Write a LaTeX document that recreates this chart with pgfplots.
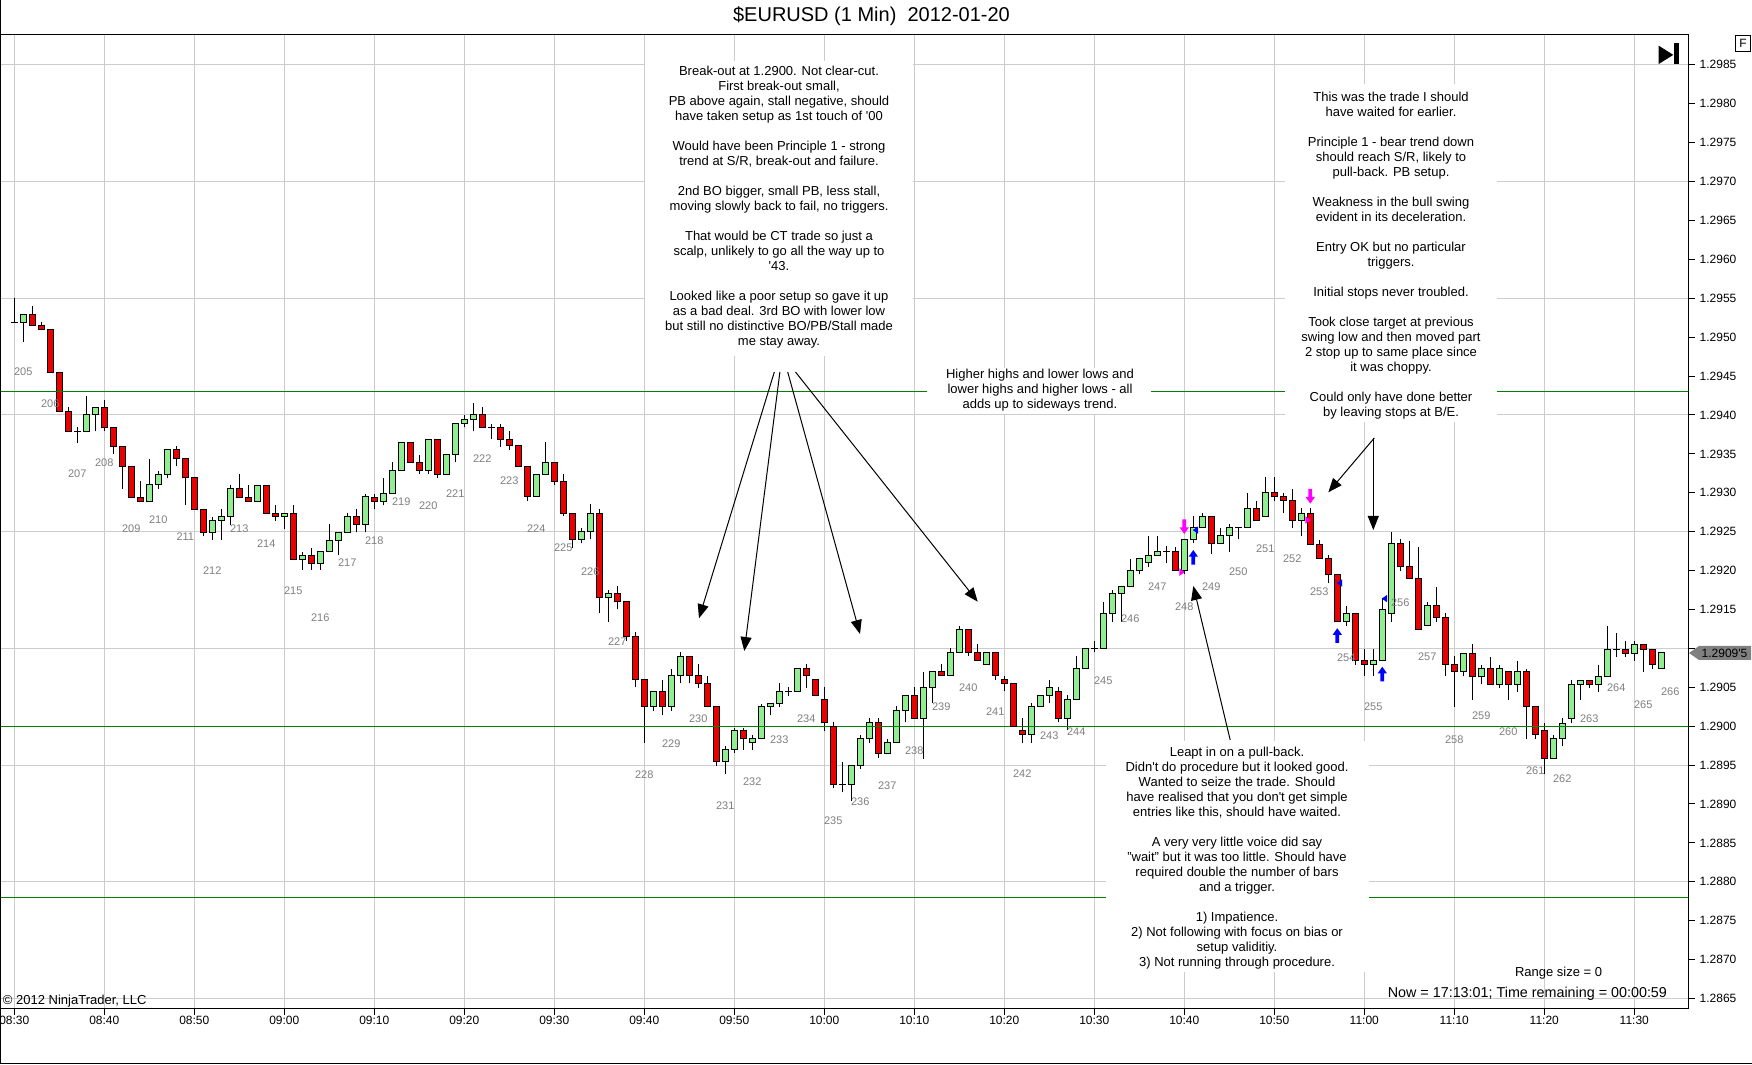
\documentclass[border=0pt]{standalone}
\usepackage{pgfplots}
\pgfplotsset{compat=1.18}
\usepackage{pgfplotstable}
\usepackage{fontspec}
\setmainfont{Liberation Sans}
\usetikzlibrary{arrows.meta}
\definecolor{cgreen}{RGB}{144,238,144}
\definecolor{cred}{RGB}{235,0,0}
\definecolor{srgreen}{RGB}{0,128,0}
\definecolor{gridgray}{RGB}{204,204,204}
\definecolor{lblgray}{RGB}{128,128,128}
\definecolor{tagfill}{RGB}{128,128,128}
\definecolor{tmag}{RGB}{255,0,255}
\definecolor{tblue}{RGB}{0,0,255}
\newcommand\fa{\fontsize{9.75}{11.25}\selectfont}
\newcommand\fb{\fontsize{9}{10.5}\selectfont}
\newcommand\fc{\fontsize{8.25}{9.5}\selectfont}
\newcommand\ft{\fontsize{15}{18}\selectfont}
\pgfdeclareplotmark{uparr}{%
 \pgfpathmoveto{\pgfqpoint{-1.4pt}{-5.5pt}}%
 \pgfpathlineto{\pgfqpoint{1.4pt}{-5.5pt}}%
 \pgfpathlineto{\pgfqpoint{1.4pt}{0.5pt}}%
 \pgfpathlineto{\pgfqpoint{3.5pt}{0.5pt}}%
 \pgfpathlineto{\pgfqpoint{0pt}{5.5pt}}%
 \pgfpathlineto{\pgfqpoint{-3.5pt}{0.5pt}}%
 \pgfpathlineto{\pgfqpoint{-1.4pt}{0.5pt}}%
 \pgfpathclose\pgfusepathqfill}
\pgfdeclareplotmark{dnarr}{%
 \pgfpathmoveto{\pgfqpoint{-1.4pt}{5.5pt}}%
 \pgfpathlineto{\pgfqpoint{1.4pt}{5.5pt}}%
 \pgfpathlineto{\pgfqpoint{1.4pt}{-0.5pt}}%
 \pgfpathlineto{\pgfqpoint{3.5pt}{-0.5pt}}%
 \pgfpathlineto{\pgfqpoint{0pt}{-5.5pt}}%
 \pgfpathlineto{\pgfqpoint{-3.5pt}{-0.5pt}}%
 \pgfpathlineto{\pgfqpoint{-1.4pt}{-0.5pt}}%
 \pgfpathclose\pgfusepathqfill}
\pgfdeclareplotmark{ltri}{%
 \pgfpathmoveto{\pgfqpoint{-2.4pt}{0pt}}%
 \pgfpathlineto{\pgfqpoint{1.6pt}{2.8pt}}%
 \pgfpathlineto{\pgfqpoint{1.6pt}{-2.8pt}}%
 \pgfpathclose\pgfusepathqfill}
\pgfdeclareplotmark{rtri}{%
 \pgfpathmoveto{\pgfqpoint{2.4pt}{0pt}}%
 \pgfpathlineto{\pgfqpoint{-1.6pt}{2.8pt}}%
 \pgfpathlineto{\pgfqpoint{-1.6pt}{-2.8pt}}%
 \pgfpathclose\pgfusepathqfill}
\pgfplotsset{
 nomk/.style={only marks, mark=*, mark size=0pt, mark options={draw=none, fill=none}, forget plot},
}

\pgfplotstableread{
i O H L C
0 1.29519 1.29550 1.29519 1.29519
1 1.29519 1.29529 1.29494 1.29529
2 1.29529 1.29540 1.29515 1.29515
3 1.29515 1.29519 1.29510 1.29510
4 1.29510 1.29510 1.29455 1.29455
5 1.29455 1.29455 1.29404 1.29404
6 1.29404 1.29410 1.29379 1.29379
7 1.29379 1.29384 1.29364 1.29379
8 1.29379 1.29424 1.29379 1.29400
9 1.29400 1.29410 1.29379 1.29410
10 1.29410 1.29419 1.29379 1.29384
11 1.29384 1.29384 1.29350 1.29360
12 1.29360 1.29360 1.29305 1.29334
13 1.29334 1.29334 1.29294 1.29294
14 1.29294 1.29315 1.29289 1.29289
15 1.29289 1.29344 1.29289 1.29310
16 1.29310 1.29328 1.29305 1.29324
17 1.29324 1.29355 1.29319 1.29355
18 1.29355 1.29360 1.29334 1.29344
19 1.29344 1.29344 1.29284 1.29319
20 1.29319 1.29319 1.29279 1.29279
21 1.29279 1.29279 1.29244 1.29249
22 1.29249 1.29269 1.29239 1.29265
23 1.29265 1.29279 1.29239 1.29270
24 1.29270 1.29310 1.29259 1.29305
25 1.29305 1.29324 1.29294 1.29294
26 1.29294 1.29310 1.29289 1.29289
27 1.29289 1.29309 1.29289 1.29309
28 1.29309 1.29309 1.29274 1.29274
29 1.29274 1.29284 1.29264 1.29270
30 1.29270 1.29274 1.29254 1.29274
31 1.29274 1.29284 1.29214 1.29214
32 1.29214 1.29224 1.29201 1.29220
33 1.29220 1.29229 1.29201 1.29209
34 1.29209 1.29224 1.29201 1.29224
35 1.29224 1.29260 1.29224 1.29239
36 1.29239 1.29249 1.29220 1.29249
37 1.29249 1.29274 1.29249 1.29270
38 1.29270 1.29279 1.29249 1.29259
39 1.29259 1.29299 1.29249 1.29295
40 1.29294 1.29299 1.29279 1.29289
41 1.29289 1.29319 1.29284 1.29299
42 1.29299 1.29340 1.29299 1.29329
43 1.29329 1.29365 1.29329 1.29365
44 1.29365 1.29365 1.29339 1.29339
45 1.29339 1.29349 1.29324 1.29329
46 1.29329 1.29369 1.29324 1.29369
47 1.29369 1.29369 1.29319 1.29324
48 1.29324 1.29349 1.29324 1.29349
49 1.29349 1.29389 1.29339 1.29389
50 1.29389 1.29400 1.29384 1.29394
51 1.29394 1.29415 1.29379 1.29400
52 1.29400 1.29410 1.29384 1.29384
53 1.29384 1.29389 1.29369 1.29384
54 1.29384 1.29389 1.29359 1.29369
55 1.29369 1.29379 1.29355 1.29361
56 1.29361 1.29361 1.29334 1.29334
57 1.29334 1.29334 1.29290 1.29295
58 1.29295 1.29324 1.29295 1.29324
59 1.29324 1.29365 1.29324 1.29339
60 1.29339 1.29339 1.29310 1.29315
61 1.29315 1.29324 1.29270 1.29274
62 1.29274 1.29274 1.29229 1.29240
63 1.29240 1.29255 1.29235 1.29250
64 1.29250 1.29285 1.29240 1.29274
65 1.29274 1.29279 1.29145 1.29165
66 1.29165 1.29175 1.29134 1.29171
67 1.29171 1.29180 1.29150 1.29160
68 1.29160 1.29160 1.29110 1.29115
69 1.29115 1.29121 1.29050 1.29060
70 1.29060 1.29060 1.28979 1.29025
71 1.29025 1.29045 1.29020 1.29045
72 1.29045 1.29060 1.29015 1.29025
73 1.29025 1.29074 1.29020 1.29065
74 1.29065 1.29095 1.29055 1.29090
75 1.29090 1.29090 1.29055 1.29065
76 1.29065 1.29080 1.29049 1.29055
77 1.29055 1.29065 1.29025 1.29025
78 1.29025 1.29025 1.28949 1.28954
79 1.28954 1.28975 1.28939 1.28970
80 1.28970 1.28998 1.28965 1.28994
81 1.28994 1.28998 1.28970 1.28984
82 1.28979 1.28989 1.28970 1.28984
83 1.28984 1.29028 1.28984 1.29025
84 1.29025 1.29029 1.29014 1.29029
85 1.29029 1.29055 1.29025 1.29045
86 1.29045 1.29050 1.29039 1.29045
87 1.29045 1.29074 1.29045 1.29074
88 1.29074 1.29080 1.29049 1.29065
89 1.29060 1.29060 1.29040 1.29040
90 1.29034 1.29050 1.28994 1.29005
91 1.29000 1.29005 1.28920 1.28925
92 1.28925 1.28954 1.28915 1.28925
93 1.28925 1.28950 1.28904 1.28950
94 1.28950 1.28989 1.28945 1.28984
95 1.28984 1.29010 1.28979 1.29005
96 1.29005 1.29010 1.28959 1.28965
97 1.28965 1.28984 1.28965 1.28979
98 1.28979 1.29026 1.28979 1.29020
99 1.29020 1.29040 1.29005 1.29040
100 1.29040 1.29050 1.29010 1.29010
101 1.29010 1.29070 1.28958 1.29050
102 1.29050 1.29070 1.29030 1.29070
103 1.29070 1.29080 1.29065 1.29065
104 1.29065 1.29100 1.29065 1.29095
105 1.29095 1.29129 1.29095 1.29124
106 1.29124 1.29124 1.29090 1.29095
107 1.29095 1.29105 1.29085 1.29085
108 1.29079 1.29095 1.29079 1.29095
109 1.29095 1.29095 1.29060 1.29065
110 1.29060 1.29065 1.29045 1.29055
111 1.29055 1.29055 1.29000 1.29000
112 1.28995 1.29010 1.28979 1.28989
113 1.28989 1.29030 1.28979 1.29025
114 1.29025 1.29040 1.29025 1.29040
115 1.29040 1.29060 1.29030 1.29050
116 1.29045 1.29050 1.29005 1.29010
117 1.29010 1.29040 1.28995 1.29034
118 1.29034 1.29090 1.29034 1.29074
119 1.29074 1.29100 1.29074 1.29100
120 1.29100 1.29110 1.29095 1.29100
121 1.29100 1.29160 1.29100 1.29145
122 1.29145 1.29175 1.29134 1.29171
123 1.29171 1.29180 1.29134 1.29180
124 1.29180 1.29215 1.29179 1.29200
125 1.29200 1.29215 1.29195 1.29215
126 1.29210 1.29245 1.29205 1.29220
127 1.29220 1.29245 1.29220 1.29224
128 1.29224 1.29231 1.29210 1.29224
129 1.29224 1.29230 1.29200 1.29200
130 1.29200 1.29240 1.29195 1.29240
131 1.29240 1.29270 1.29235 1.29255
132 1.29255 1.29274 1.29255 1.29270
133 1.29270 1.29270 1.29221 1.29235
134 1.29235 1.29255 1.29235 1.29245
135 1.29245 1.29260 1.29224 1.29255
136 1.29255 1.29255 1.29240 1.29255
137 1.29255 1.29300 1.29255 1.29280
138 1.29280 1.29290 1.29265 1.29265
139 1.29270 1.29320 1.29270 1.29300
140 1.29300 1.29320 1.29290 1.29295
141 1.29295 1.29300 1.29274 1.29290
142 1.29290 1.29305 1.29255 1.29265
143 1.29265 1.29280 1.29244 1.29274
144 1.29274 1.29280 1.29234 1.29234
145 1.29234 1.29239 1.29215 1.29215
146 1.29215 1.29220 1.29184 1.29195
147 1.29195 1.29195 1.29134 1.29134
148 1.29134 1.29154 1.29129 1.29145
149 1.29145 1.29145 1.29079 1.29084
150 1.29084 1.29099 1.29064 1.29079
151 1.29079 1.29099 1.29064 1.29084
152 1.29084 1.29165 1.29084 1.29150
153 1.29145 1.29250 1.29134 1.29235
154 1.29235 1.29240 1.29199 1.29205
155 1.29205 1.29238 1.29190 1.29190
156 1.29190 1.29230 1.29124 1.29124
157 1.29129 1.29160 1.29129 1.29155
158 1.29155 1.29179 1.29134 1.29140
159 1.29140 1.29145 1.29064 1.29079
160 1.29079 1.29090 1.29025 1.29070
161 1.29070 1.29094 1.29064 1.29094
162 1.29094 1.29105 1.29034 1.29064
163 1.29064 1.29079 1.29054 1.29074
164 1.29074 1.29089 1.29054 1.29054
165 1.29054 1.29079 1.29049 1.29074
166 1.29070 1.29070 1.29034 1.29054
167 1.29054 1.29084 1.29044 1.29070
168 1.29070 1.29074 1.28984 1.29025
169 1.29025 1.29025 1.28984 1.28989
170 1.28994 1.29004 1.28939 1.28959
171 1.28959 1.28989 1.28959 1.28984
172 1.28984 1.29010 1.28974 1.29004
173 1.29010 1.29059 1.29004 1.29054
174 1.29054 1.29059 1.29034 1.29059
175 1.29059 1.29059 1.29049 1.29054
176 1.29054 1.29079 1.29044 1.29064
177 1.29064 1.29129 1.29064 1.29099
178 1.29099 1.29120 1.29089 1.29099
179 1.29099 1.29109 1.29089 1.29094
180 1.29094 1.29109 1.29084 1.29105
181 1.29105 1.29105 1.29070 1.29099
182 1.29099 1.29099 1.29074 1.29079
183 1.29074 1.29095 1.29074 1.29095
}\candles

\pgfplotstableread{
x y lab
1 1.29455 205
4 1.29415 206
7 1.29324 207
10 1.29339 208
13 1.29254 209
16 1.29265 210
19 1.29244 211
22 1.29200 212
25 1.29254 213
28 1.29234 214
31 1.29174 215
34 1.29140 216
37 1.29210 217
40 1.29239 218
43 1.29289 219
46 1.29284 220
49 1.29299 221
52 1.29344 222
55 1.29315 223
58 1.29254 224
61 1.29229 225
64 1.29199 226
67 1.29109 227
70 1.28938 228
73 1.28977 229
76 1.29009 230
79 1.28898 231
82 1.28928 232
85 1.28983 233
88 1.29009 234
91 1.28878 235
94 1.28903 236
97 1.28924 237
100 1.28969 238
103 1.29025 239
106 1.29049 240
109 1.29019 241
112 1.28939 242
115 1.28988 243
118 1.28993 244
121 1.29059 245
124 1.29138 246
127 1.29179 247
130 1.29154 248
133 1.29179 249
136 1.29199 250
139 1.29228 251
142 1.29215 252
145 1.29173 253
148 1.29088 254
151 1.29025 255
154 1.29159 256
157 1.29089 257
160 1.28983 258
163 1.29014 259
166 1.28993 260
169 1.28943 261
172 1.28933 262
175 1.29009 263
178 1.29049 264
181 1.29028 265
184 1.29044 266
}\swing

\begin{document}
\begin{tikzpicture}
\useasboundingbox (0,0) rectangle (1314pt,798pt);
\fill[white] (0,0) rectangle (1314pt,798pt);
\begin{axis}[
 at={(0pt,41.775pt)}, anchor=south west,
 scale only axis, width=1266.2pt, height=730.5pt,
 xmin=-1.589, xmax=186.0, ymin=1.286374, ymax=1.298893,
 axis line style={line width=0.75pt, black},
 xtick={0,10,...,180},
 xticklabels={08:30,08:40,08:50,09:00,09:10,09:20,09:30,09:40,09:50,10:00,10:10,10:20,10:30,10:40,10:50,11:00,11:10,11:20,11:30},
 xtick pos=bottom, ytick pos=right, tick align=outside,
 major tick length=5pt,
 tick style={black, line width=0.75pt},
 xmajorgrids,
 grid style={gridgray, line width=0.75pt},
 ytick={1.2865,1.2870,1.2875,1.2880,1.2885,1.2890,1.2895,1.2900,1.2905,1.2910,1.2915,1.2920,1.2925,1.2930,1.2935,1.2940,1.2945,1.2950,1.2955,1.2960,1.2965,1.2970,1.2975,1.2980,1.2985},
 yticklabels={1.2865,1.2870,1.2875,1.2880,1.2885,1.2890,1.2895,1.2900,1.2905,{},1.2915,1.2920,1.2925,1.2930,1.2935,1.2940,1.2945,1.2950,1.2955,1.2960,1.2965,1.2970,1.2975,1.2980,1.2985},
 yticklabel pos=right,
 extra y ticks={1.2865,1.2880,1.2895,1.2910,1.2925,1.2940,1.2955,1.2970,1.2985},
 extra y tick labels={},
 extra y tick style={grid=major},
 tick label style={font=\fb},
 xticklabel style={yshift=2.5pt},
 /pgf/number format/assume math mode=true,
]
% wicks
\addplot[nomk,
  error bars/.cd, y dir=plus, y explicit, error mark=none,
  error bar style={line width=0.75pt, draw=black, solid}]
  table[x=i, y=L, y error plus expr=\thisrow{H}-\thisrow{L}] {\candles};
% body outline
\addplot[nomk,
  error bars/.cd, y dir=plus, y explicit, error mark=none,
  error bar style={line width=5.25pt, draw=black, solid}]
  table[x=i, y expr={min(\thisrow{O},\thisrow{C})}, y error plus expr={abs(\thisrow{C}-\thisrow{O})}] {\candles};
% green bodies
\addplot[nomk,
  restrict expr to domain={\thisrow{C}-\thisrow{O}}{0:1},
  error bars/.cd, y dir=plus, y explicit, error mark=none,
  error bar style={line width=3.75pt, draw=cgreen, solid}]
  table[x=i, y=O, y error plus expr=\thisrow{C}-\thisrow{O}] {\candles};
% red bodies
\addplot[nomk,
  restrict expr to domain={\thisrow{O}-\thisrow{C}}{0.000001:1},
  error bars/.cd, y dir=plus, y explicit, error mark=none,
  error bar style={line width=3.75pt, draw=cred, solid}]
  table[x=i, y=C, y error plus expr=\thisrow{O}-\thisrow{C}] {\candles};
% top / bottom borders
\addplot[black, only marks, mark=-, mark size=2.625pt, mark options={line width=0.75pt, black}, forget plot]
  table[x=i, y=O] {\candles};
\addplot[black, only marks, mark=-, mark size=2.625pt, mark options={line width=0.75pt, black}, forget plot]
  table[x=i, y=C] {\candles};
% support / resistance lines
\addplot[srgreen, line width=0.75pt, forget plot] coordinates {(-5,1.2943) (190,1.2943)};
\addplot[srgreen, line width=0.75pt, forget plot] coordinates {(-5,1.2900) (190,1.2900)};
\addplot[srgreen, line width=0.75pt, forget plot] coordinates {(-5,1.2878) (190,1.2878)};
% trade markers
\addplot[only marks, mark=uparr, tblue, mark options={fill=tblue, draw=none}, forget plot]
  coordinates {(131,1.29217) (147,1.291165) (152,1.29067)};
\addplot[only marks, mark=dnarr, tmag, mark options={fill=tmag, draw=none}, forget plot]
  coordinates {(130,1.292565) (144,1.292955)};
\addplot[only marks, mark=ltri, tblue, mark options={fill=tblue, draw=none}, forget plot]
  coordinates {(131.3,1.29252) (147.3,1.29184) (152.3,1.29164)};
\addplot[only marks, mark=rtri, tmag, mark options={fill=tmag, draw=none}, forget plot]
  coordinates {(129.7,1.29198) (143.7,1.29265)};
% swing labels
\addplot[nomk, nodes near coords, point meta=explicit symbolic,
  nodes near coords style={anchor=center, font=\fc, text=lblgray, inner sep=0pt}]
  table[x=x, y=y, meta=lab] {\swing};
\end{axis}

\begin{scope}[yshift=798pt, x=0.75pt, y=-0.75pt]
% outer border
\draw[line width=0.75pt] (0.5,0) -- (0.5,1063.5) -- (1752,1063.5);
% title
\node[font=\ft] at (871.5,16) {\$EURUSD (1 Min)\ \ 2012-01-20};
% F box and icon
\draw[line width=0.75pt] (1735.7,36) rectangle (1750.5,51.5);
\node[font=\fb, inner sep=0pt] at (1743.1,43.8) {F};
\fill (1658.7,45.7) -- (1673.3,54.9) -- (1658.7,64) -- cycle;
\fill (1674.3,43.5) rectangle (1678.7,64);
% last price tag
\fill[tagfill] (1689,653) -- (1699,646) -- (1751,646) -- (1751,660) -- (1699,660) -- cycle;
\node[font=\fb, inner sep=0pt] at (1724.5,653) {1.2909\textquotesingle 5};
% copyright and status texts
\node[font=\fa, anchor=west, inner sep=0pt] at (2.7,1000.7) {\textcopyright{} 2012 NinjaTrader, LLC};
\node[font=\fa, inner sep=0pt] at (1558.6,973.4) {Range size = 0};
\node[font=\fontsize{10.75}{12}\selectfont, inner sep=0pt] at (1527.4,993.5) {Now = 17:13:01; Time remaining = 00:00:59};
% text boxes
\fill[white] (645,61) rectangle (913,356);
\node[font=\fa, align=center, inner sep=0pt] at (779,207.6) {%
Break-out at 1.2900. Not clear-cut.\\
First break-out small,\\
PB above again, stall negative, should\\
have taken setup as 1st touch of \textquotesingle 00\\[11.25pt]
Would have been Principle 1 - strong\\
trend at S/R, break-out and failure.\\[11.25pt]
2nd BO bigger, small PB, less stall,\\
moving slowly back to fail, no triggers.\\[11.25pt]
That would be CT trade so just a\\
scalp, unlikely to go all the way up to\\
\textquotesingle 43.\\[11.25pt]
Looked like a poor setup so gave it up\\
as a bad deal. 3rd BO with lower low\\
but still no distinctive BO/PB/Stall made\\
me stay away.};
\fill[white] (927,368) rectangle (1151,414);
\node[font=\fa, align=center, inner sep=0pt] at (1040,390.6) {%
Higher highs and lower lows and\\
lower highs and higher lows - all\\
adds up to sideways trend.};
\fill[white] (1285,84) rectangle (1497,422);
\node[font=\fa, align=center, inner sep=0pt] at (1391,255.4) {%
This was the trade I should\\
have waited for earlier.\\[11.25pt]
Principle 1 - bear trend down\\
should reach S/R, likely to\\
pull-back. PB setup.\\[11.25pt]
Weakness in the bull swing\\
evident in its deceleration.\\[11.25pt]
Entry OK but no particular\\
triggers.\\[11.25pt]
Initial stops never troubled.\\[11.25pt]
Took close target at previous\\
swing low and then moved part\\
2 stop up to same place since\\
it was choppy.\\[11.25pt]
Could only have done better\\
by leaving stops at B/E.};
\fill[white] (1106,741) rectangle (1369,972);
\node[font=\fa, align=center, inner sep=0pt] at (1237,857.8) {%
Leapt in on a pull-back.\\
Didn\textquotesingle t do procedure but it looked good.\\
Wanted to seize the trade. Should\\
have realised that you don\textquotesingle t get simple\\
entries like this, should have waited.\\[11.25pt]
A very very little voice did say\\
"wait" but it was too little. Should have\\
required double the number of bars\\
and a trigger.\\[11.25pt]
1) Impatience.\\
2) Not following with focus on bias or\\
setup validitiy.\\
3) Not running through procedure.};
% arrows
\begin{scope}[line width=0.75pt, -{Triangle[length=10.5pt,width=8.25pt]}]
\draw (774.3,372) -- (699,618.3);
\draw (779.9,372) -- (744.3,651);
\draw (787.7,372) -- (860,634);
\draw (795.5,372) -- (977.7,601.7);
\draw (1374.3,438) -- (1328.3,492.3);
\draw (1373.3,438) -- (1373.3,530);
\draw (1230.2,740) -- (1193.3,586);
\end{scope}
\end{scope}
\end{tikzpicture}
\end{document}
